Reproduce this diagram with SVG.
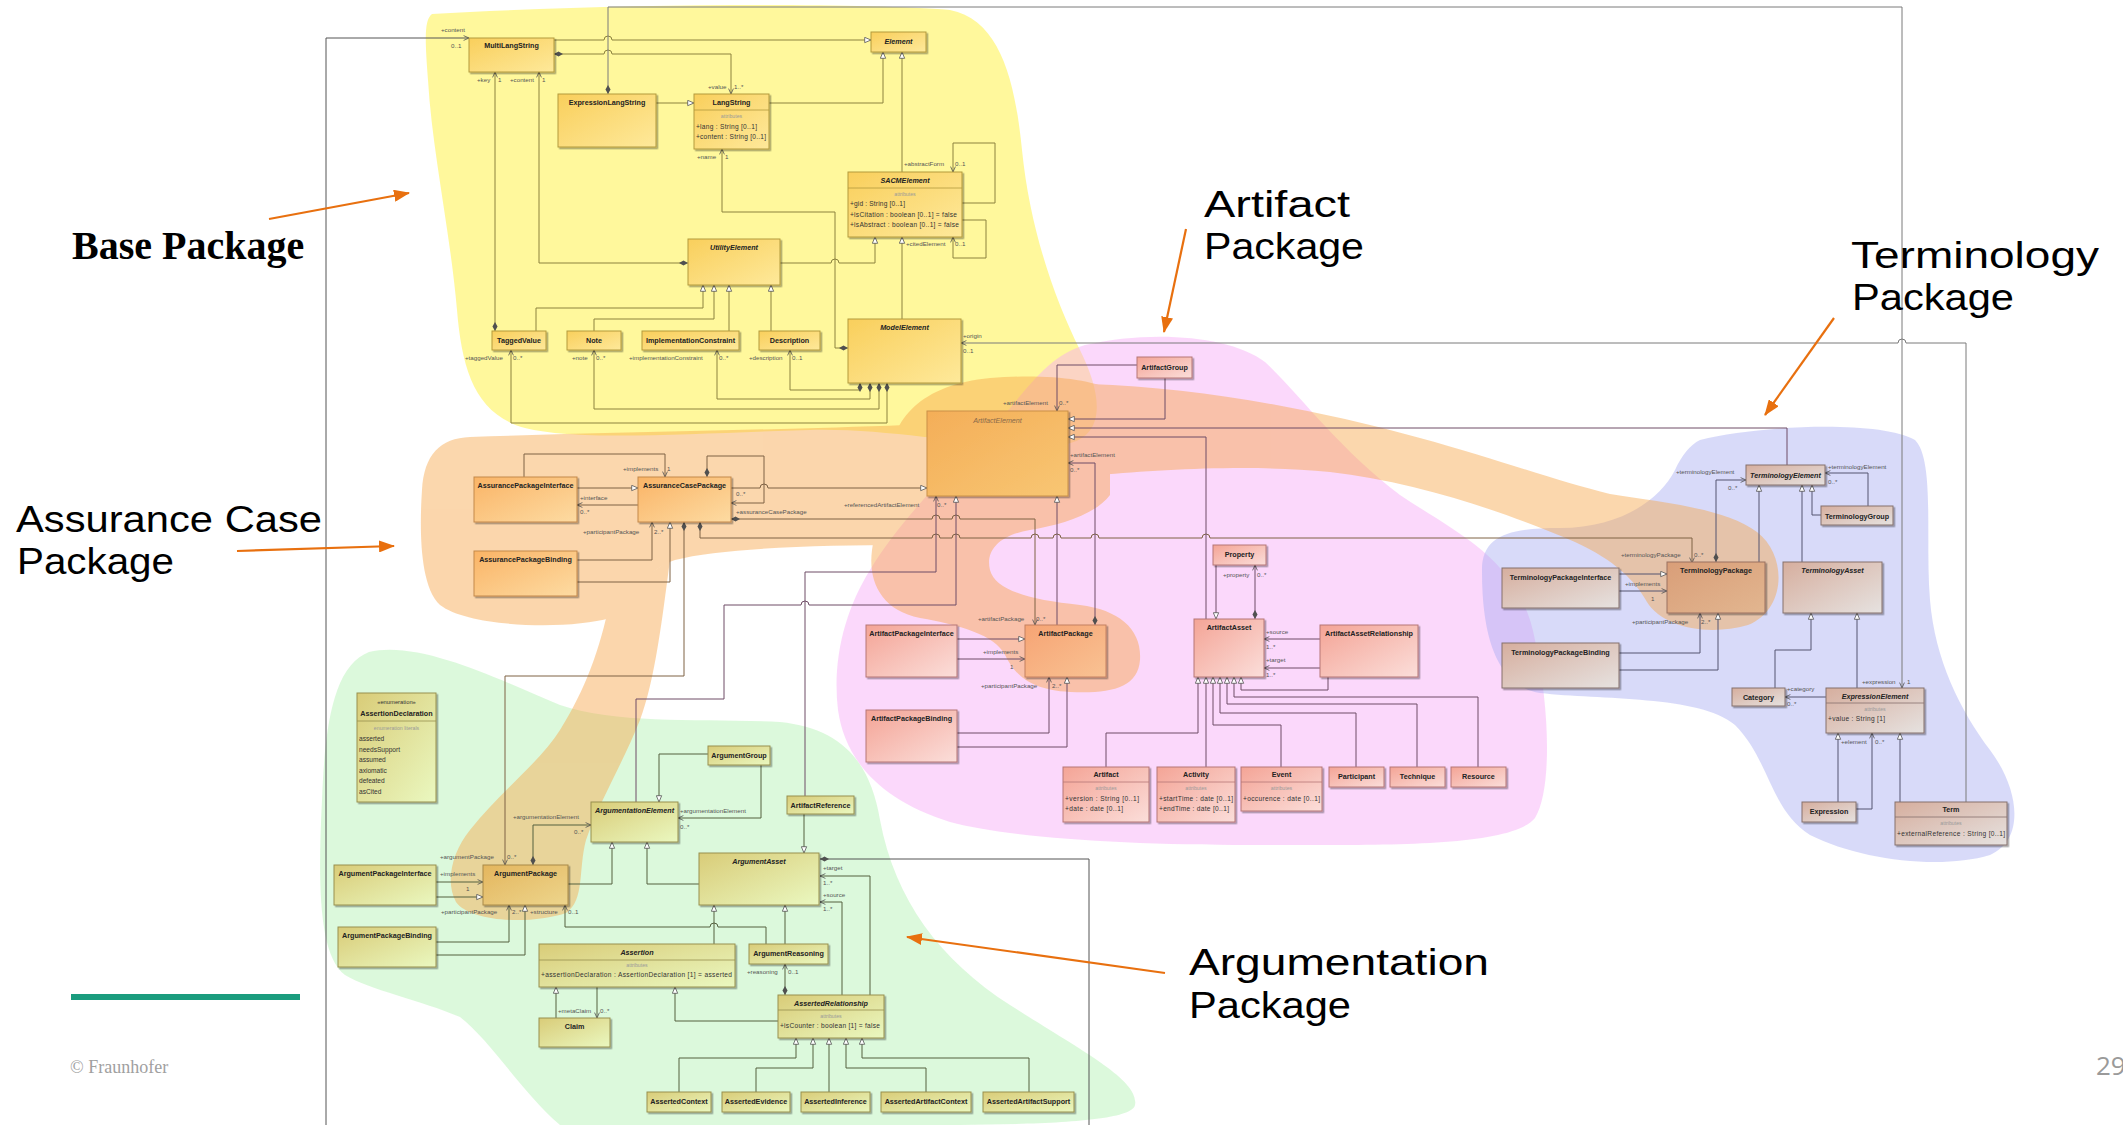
<svg xmlns="http://www.w3.org/2000/svg" width="2123" height="1125" viewBox="0 0 2123 1125">
<defs>
  <linearGradient id="gB" x1="0" y1="0" x2="1" y2="1"><stop offset="0" stop-color="#F9CF5C"/><stop offset="1" stop-color="#FEE99A"/></linearGradient>
  <linearGradient id="gO" x1="0" y1="0" x2="1" y2="1"><stop offset="0" stop-color="#FAB466"/><stop offset="1" stop-color="#FDDBA2"/></linearGradient>
  <linearGradient id="gAE" x1="0" y1="0" x2="1" y2="1"><stop offset="0" stop-color="#F4AE58"/><stop offset="1" stop-color="#F8C673"/></linearGradient>
  <linearGradient id="gP" x1="0" y1="0" x2="1" y2="1"><stop offset="0" stop-color="#F4A496"/><stop offset="1" stop-color="#FBDEDA"/></linearGradient>
  <linearGradient id="gAP" x1="0" y1="0" x2="1" y2="1"><stop offset="0" stop-color="#F6A474"/><stop offset="1" stop-color="#F9C293"/></linearGradient>
  <linearGradient id="gT" x1="0" y1="0" x2="1" y2="1"><stop offset="0" stop-color="#D6AE9E"/><stop offset="1" stop-color="#E6E2E0"/></linearGradient>
  <linearGradient id="gTP" x1="0" y1="0" x2="1" y2="1"><stop offset="0" stop-color="#D99E78"/><stop offset="1" stop-color="#E2B690"/></linearGradient>
  <linearGradient id="gG" x1="0" y1="0" x2="1" y2="1"><stop offset="0" stop-color="#D9CC78"/><stop offset="1" stop-color="#EAF8C0"/></linearGradient>
  <linearGradient id="gGP" x1="0" y1="0" x2="1" y2="1"><stop offset="0" stop-color="#E4B65E"/><stop offset="1" stop-color="#EDD58C"/></linearGradient>
  <filter id="sh" x="-10%" y="-10%" width="130%" height="140%"><feDropShadow dx="1.6" dy="1.6" stdDeviation="0.7" flood-color="#000" flood-opacity="0.35"/></filter>
  <marker id="tri" viewBox="0 0 10 10" refX="10" refY="5" markerWidth="7" markerHeight="7" orient="auto" markerUnits="userSpaceOnUse"><path d="M1,1.2 L10,5 L1,8.8 Z" fill="#fff" stroke="#505050" stroke-width="1.1"/></marker>
  <marker id="arr" viewBox="0 0 10 10" refX="10" refY="5" markerWidth="6" markerHeight="6" orient="auto" markerUnits="userSpaceOnUse"><path d="M1,1 L10,5 L1,9" fill="none" stroke="#505050" stroke-width="1.3"/></marker>
  <marker id="dia" viewBox="0 0 12 8" refX="0" refY="4" markerWidth="9" markerHeight="6" orient="auto" markerUnits="userSpaceOnUse"><path d="M0,4 L6,0.6 L12,4 L6,7.4 Z" fill="#505050"/></marker>
  <marker id="oa" viewBox="0 0 16 12" refX="15" refY="6" markerWidth="16" markerHeight="12" orient="auto" markerUnits="userSpaceOnUse"><path d="M0,0 L16,6 L0,12 Z" fill="#E8700F"/></marker>
</defs>
<style>
  text{font-family:"Liberation Sans",Arial,sans-serif}
  .box{stroke-width:1;filter:url(#sh)}
  .b{fill:url(#gB);stroke:#B39A3C}
  .o{fill:url(#gO);stroke:#C4894A}
  .ae{fill:url(#gAE);stroke:#C99048}
  .p{fill:url(#gP);stroke:#B57676}
  .ap{fill:url(#gAP);stroke:#C48060}
  .t{fill:url(#gT);stroke:#85706C}
  .tp{fill:url(#gTP);stroke:#9A7060}
  .g{fill:url(#gG);stroke:#97904E}
  .gp{fill:url(#gGP);stroke:#A88A48}
  .dv{stroke-width:0.8}
  .nm{font-size:7.2px;font-weight:bold;fill:#222;text-anchor:middle}
  .it{font-style:italic}
  .ital{font-size:7.2px;font-style:italic;fill:#8A6A4A;text-anchor:middle}
  .at{font-size:6.6px;fill:#333}
  .ah{font-size:5.2px;fill:#9A9A9A;text-anchor:middle}
  .st{font-size:5.8px;fill:#333;text-anchor:middle}
  .r{font-size:6.2px;fill:#555}
  .c{fill:none;stroke-width:1}
  .cb{stroke:#8C823E}
  .co{stroke:#7E6244}
  .cp{stroke:#6E4C66}
  .ct{stroke:#545470}
  .cg{stroke:#55603F}
  .cl{stroke:#7A7A7A}
  .tr{marker-end:url(#tri)}
  .ar{marker-end:url(#arr)}
  .ds{marker-start:url(#dia)}
  .big{font-family:"Liberation Sans",Arial,sans-serif;font-size:37px;fill:#000}
  .call{fill:none;stroke:#E8700F;stroke-width:2.2;marker-end:url(#oa)}
</style>
<rect width="2123" height="1125" fill="#fff"/>

<!-- package highlight regions -->
<g id="packages">
  <path id="pkg-base" fill="#FFF45A" opacity="0.6" d="M432,14 C600,4 850,2 950,10 C1000,20 1015,80 1022,150 C1030,230 1055,300 1080,350 C1105,400 1105,440 1060,445 C980,450 900,428 810,430 C700,433 580,442 525,428 C475,414 462,370 457,310 C450,230 432,150 428,80 C425,40 424,20 432,14 Z"/>
  <path id="pkg-artifact" fill="#F7A8F7" opacity="0.45" d="M1085,345 C1150,330 1230,335 1265,362 C1300,395 1340,450 1400,495 C1460,535 1520,560 1535,640 C1550,710 1552,790 1535,818 C1510,848 1380,845 1250,845 C1130,845 1010,838 950,822 C880,800 845,760 838,710 C832,660 845,610 870,570 C900,520 950,470 1000,420 C1030,385 1050,355 1085,345 Z"/>
  <path id="pkg-terminology" fill="#A8ACF2" opacity="0.45" d="M1700,440 C1760,425 1880,420 1915,440 C1935,460 1925,540 1930,600 C1935,660 1960,710 1990,750 C2020,790 2025,840 1990,855 C1940,870 1860,860 1810,835 C1770,810 1770,760 1735,725 C1700,695 1600,700 1540,693 C1490,685 1482,620 1482,570 C1482,535 1510,528 1560,528 C1620,528 1660,500 1675,470 C1682,455 1690,445 1700,440 Z"/>
  <path id="pkg-argumentation" fill="#A8F0A8" opacity="0.4" d="M369,652 C420,640 500,680 560,705 C620,725 700,718 780,722 C840,728 870,760 880,820 C895,900 940,960 1010,1005 C1080,1050 1140,1080 1135,1105 C1132,1125 1000,1125 900,1125 L560,1125 C520,1090 490,1040 460,1017 C420,1000 370,990 345,975 C318,955 318,880 322,800 C325,720 335,665 369,652 Z"/>
  <g id="pkg-assurance" fill="#F7A64A" opacity="0.45">
    <path d="M470,437 C620,432 780,430 905,425 L905,545 C820,545 720,548 675,560 C645,570 630,600 610,618 C570,630 470,628 440,605 C418,585 420,520 422,490 C424,455 440,438 470,437 Z"/>
    <path d="M610,600 L670,560 C662,620 655,680 640,720 C622,765 600,800 586,840 C578,870 585,900 566,913 C530,925 470,922 456,902 C445,882 452,852 470,830 C500,792 540,762 560,730 C585,690 600,650 610,600 Z"/>
    <path d="M890,470 C888,420 920,385 990,378 C1040,374 1090,378 1110,390 L1110,495 C1095,515 1060,525 1030,530 C1000,535 985,550 990,570 C995,590 1030,600 1080,605 C1120,610 1142,630 1140,660 C1138,688 1110,694 1070,692 C1030,690 1015,675 1005,655 C995,635 960,625 920,618 C880,610 868,580 872,550 C876,520 890,500 890,470 Z"/>
    <path d="M1090,384 C1200,388 1310,408 1420,438 C1500,460 1560,482 1610,494 C1660,502 1725,508 1757,532 C1788,556 1786,610 1748,625 C1705,637 1662,626 1647,602 C1636,582 1615,560 1575,542 C1515,516 1420,482 1330,472 C1250,464 1160,470 1100,475 Z"/>
  </g>
</g>

<!-- connectors -->
<g id="connectors">
  <!-- base -->
  <path class="c cb tr" d="M554,40 H604 a4,4 0 0 1 8,0 H871"/>
  <path class="c cb ds ar" d="M554,54 H604 a4,4 0 0 1 8,0 H731 V94"/>
  <path class="c cb tr" d="M769,103 H883 V52"/>
  <path class="c cb tr" d="M656,103 H694"/>
  <path class="c cb tr" d="M902,172 V52"/>
  <path class="c cb tr" d="M902,319 V237"/>
  <path class="c cb tr" d="M780,263 H831 a4,4 0 0 1 8,0 H875 V237"/>
  <path class="c cb ds ar" d="M688,263 H539 V72"/>
  <path class="c cb ds ar" d="M495,331 V72"/>
  <path class="c cb ds ar" d="M848,348 H835 V212 H722 V149"/>
  <path class="c cb ar" d="M962,203 H995 V143 H953 V172"/>
  <path class="c cb ar" d="M962,220 H986 V258 H953 V237"/>
  <path class="c cb tr" d="M536,331 V308 H703 V285"/>
  <path class="c cb tr" d="M594,331 V319 H714 V285"/>
  <path class="c cb tr" d="M729,331 V285"/>
  <path class="c cb tr" d="M771,331 V285"/>
  <path class="c cb ds ar" d="M860,383 V390 H790 V350"/>
  <path class="c cb ds ar" d="M870,383 V399 H717 V350"/>
  <path class="c cb ds ar" d="M879,383 V409 H594 V350"/>
  <path class="c cb ds ar" d="M887,383 V423 H511 V350"/>
  <!-- long cross-package lines -->
  <path class="c cl ds ar" d="M608,94 V7 H1902 V688"/>
  <path class="c cl ar" d="M1966,802 V343 H1906 a4,4 0 0 0 -8,0 H961"/>
  <path class="c cl ar" d="M326,1125 V38 H469" style="stroke:#555"/>
  <path class="c cl ds" d="M820,859 H1089 V1125" style="stroke:#555"/>
  <!-- assurance case -->
  <path class="c co tr" d="M577,488 H638"/>
  <path class="c co ar" d="M638,505 H577"/>
  <path class="c co ar" d="M524,477 V454 H665 V477"/>
  <path class="c co ar" d="M577,560 H652 V522"/>
  <path class="c co tr" d="M577,582 H670 V522"/>
  <path class="c co ds ar" d="M707,477 V456 H764 V503 H731"/>
  <path class="c co tr" d="M731,488 H760 a4,4 0 0 1 8,0 H927"/>
  <path class="c co ds ar" d="M731,519 H932 a4,4 0 0 1 8,0 H952 a4,4 0 0 1 8,0 H1035 V625"/>
  <path class="c co ds ar" d="M700,522 V538 H932 a4,4 0 0 1 8,0 H952 a4,4 0 0 1 8,0 H1031 a4,4 0 0 1 8,0 H1053 a4,4 0 0 1 8,0 H1091 a4,4 0 0 1 8,0 H1202 a4,4 0 0 1 8,0 H1692 V563"/>
  <path class="c co ds ar" d="M684,522 V676 H505 V865"/>
  <!-- artifact -->
  <path class="c cp tr" d="M1165,378 V419 H1068"/>
  <path class="c cp ar" d="M1137,365 H1057 V411"/>
  <path class="c cp tr" d="M1787,465 V428 H1068"/>
  <path class="c cp tr" d="M1206,619 V437 H1068"/>
  <path class="c cp ds ar" d="M1095,625 V463 H1068"/>
  <path class="c cp tr" d="M1057,625 V496"/>
  <path class="c cp ar" d="M805,796 V572 H936 V496"/>
  <path class="c cp tr" d="M636,802 V699 H724 V605 H801 a4,4 0 0 1 8,0 H956 V496"/>
  <path class="c cp tr" d="M957,639 H1025"/>
  <path class="c cp ar" d="M957,659 H1025"/>
  <path class="c cp ar" d="M957,733 H1049 V677"/>
  <path class="c cp tr" d="M957,747 H1067 V677"/>
  <path class="c cp tr" d="M1216,565 V619"/>
  <path class="c cp ds ar" d="M1255,619 V565"/>
  <path class="c cp ar" d="M1320,639 H1264"/>
  <path class="c cp ar" d="M1320,668 H1264"/>
  <path class="c cp tr" d="M1328,677 V690 H1241 V677"/>
  <path class="c cp tr" d="M1106,767 V733 H1198 V677"/>
  <path class="c cp tr" d="M1206,767 V677"/>
  <path class="c cp tr" d="M1281,767 V725 H1213 V677"/>
  <path class="c cp tr" d="M1356,767 V713 H1220 V677"/>
  <path class="c cp tr" d="M1417,767 V704 H1227 V677"/>
  <path class="c cp tr" d="M1478,767 V697 H1234 V677"/>
  <!-- terminology -->
  <path class="c ct ds ar" d="M1716,562 V480 H1746"/>
  <path class="c ct tr" d="M1759,562 V485"/>
  <path class="c ct tr" d="M1802,562 V485"/>
  <path class="c ct tr" d="M1821,515 H1812 V485"/>
  <path class="c ct ar" d="M1868,506 V473 H1825"/>
  <path class="c ct tr" d="M1619,574 H1667"/>
  <path class="c ct ar" d="M1619,591 H1667"/>
  <path class="c ct ar" d="M1619,653 H1700 V613"/>
  <path class="c ct tr" d="M1619,670 H1718 V613"/>
  <path class="c ct tr" d="M1775,688 V650 H1811 V613"/>
  <path class="c ct tr" d="M1857,688 V613"/>
  <path class="c ct ar" d="M1826,697 H1785"/>
  <path class="c ct tr" d="M1838,802 V733"/>
  <path class="c ct ar" d="M1856,809 H1872 V733"/>
  <path class="c ct tr" d="M1900,802 V733"/>
  <!-- argumentation -->
  <path class="c cg tr" d="M708,754 H659 V802"/>
  <path class="c cg ar" d="M761,765 V818 H678"/>
  <path class="c cg tr" d="M568,884 H612 V842"/>
  <path class="c cg tr" d="M699,884 H647 V842"/>
  <path class="c cg ds ar" d="M533,865 V825 H591"/>
  <path class="c cg ar" d="M436,882 H483"/>
  <path class="c cg tr" d="M436,897 H483"/>
  <path class="c cg ar" d="M436,942 H509 V905"/>
  <path class="c cg tr" d="M436,955 H525 V905"/>
  <path class="c cg ar" d="M766,944 V927 H718 a4,4 0 0 0 -8,0 H565 V905"/>
  <path class="c cg tr" d="M714,944 V905"/>
  <path class="c cg tr" d="M785,944 V905"/>
  <path class="c cg tr" d="M804,814 V853"/>
  <path class="c cg ar" d="M870,995 V876 H820"/>
  <path class="c cg ar" d="M842,995 V902 H820"/>
  <path class="c cg ds ar" d="M785,995 V964"/>
  <path class="c cg tr" d="M778,1021 H675 V987"/>
  <path class="c cg tr" d="M556,1018 V987"/>
  <path class="c cg ar" d="M597,987 V1018"/>
  <path class="c cg tr" d="M679,1092 V1058 H796 V1038"/>
  <path class="c cg tr" d="M756,1092 V1068 H813 V1038"/>
  <path class="c cg tr" d="M829,1092 V1038"/>
  <path class="c cg tr" d="M926,1092 V1068 H846 V1038"/>
  <path class="c cg tr" d="M1029,1092 V1058 H862 V1038"/>
</g>

<!-- classes -->
<g id="nodes">
  <!-- base package -->
  <g id="multilangstring"><rect class="box b" x="469" y="38" width="85" height="34"/><text class="nm" x="511.5" y="48">MultiLangString</text></g>
  <g id="element"><rect class="box b" x="871" y="32" width="55" height="20"/><text class="nm it" x="898.5" y="44">Element</text></g>
  <g id="expressionlangstring"><rect class="box b" x="558" y="94" width="98" height="53"/><text class="nm" x="607" y="105">ExpressionLangString</text></g>
  <g id="langstring"><rect class="box b" x="694" y="94" width="75" height="55"/><text class="nm" x="731.5" y="105">LangString</text><line class="dv" stroke="#B39A3C" x1="694" y1="110" x2="769" y2="110"/><text class="ah" x="731.5" y="118">attributes</text><text class="at" x="696" y="129" textLength="61">+lang : String [0..1]</text><text class="at" x="696" y="139" textLength="70">+content : String [0..1]</text></g>
  <g id="sacmelement"><rect class="box b" x="848" y="172" width="114" height="65"/><text class="nm it" x="905" y="183">SACMElement</text><line class="dv" stroke="#B39A3C" x1="848" y1="188" x2="962" y2="188"/><text class="ah" x="905" y="196">attributes</text><text class="at" x="850" y="206" textLength="55">+gid : String [0..1]</text><text class="at" x="850" y="216.5" textLength="107">+isCitation : boolean [0..1] = false</text><text class="at" x="850" y="227" textLength="109">+isAbstract : boolean [0..1] = false</text></g>
  <g id="utilityelement"><rect class="box b" x="688" y="239" width="92" height="46"/><text class="nm it" x="734" y="250">UtilityElement</text></g>
  <g id="taggedvalue"><rect class="box b" x="492" y="331" width="54" height="19"/><text class="nm" x="519" y="343">TaggedValue</text></g>
  <g id="note"><rect class="box b" x="567" y="331" width="54" height="19"/><text class="nm" x="594" y="343">Note</text></g>
  <g id="implementationconstraint"><rect class="box b" x="642" y="331" width="97" height="19"/><text class="nm" x="690.5" y="343">ImplementationConstraint</text></g>
  <g id="description"><rect class="box b" x="759" y="331" width="61" height="19"/><text class="nm" x="789.5" y="343">Description</text></g>
  <g id="modelelement"><rect class="box b" x="848" y="319" width="113" height="64"/><text class="nm it" x="904.5" y="330">ModelElement</text></g>

  <!-- assurance case package -->
  <g id="assurancepackageinterface"><rect class="box o" x="474" y="477" width="103" height="45"/><text class="nm" x="525.5" y="488">AssurancePackageInterface</text></g>
  <g id="assurancecasepackage"><rect class="box o" x="638" y="477" width="93" height="45"/><text class="nm" x="684.5" y="488">AssuranceCasePackage</text></g>
  <g id="assurancepackagebinding"><rect class="box o" x="474" y="551" width="103" height="45"/><text class="nm" x="525.5" y="562">AssurancePackageBinding</text></g>

  <!-- artifact package -->
  <g id="artifactelement"><rect class="box ae" x="927" y="411" width="141" height="85"/><text class="ital" x="997.5" y="423">ArtifactElement</text></g>
  <g id="artifactgroup"><rect class="box p" x="1137" y="357" width="55" height="21"/><text class="nm" x="1164.5" y="370">ArtifactGroup</text></g>
  <g id="property"><rect class="box p" x="1213" y="545" width="53" height="20"/><text class="nm" x="1239.5" y="557">Property</text></g>
  <g id="artifactasset"><rect class="box p" x="1194" y="619" width="70" height="58"/><text class="nm" x="1229" y="630">ArtifactAsset</text></g>
  <g id="artifactassetrelationship"><rect class="box p" x="1320" y="625" width="98" height="52"/><text class="nm" x="1369" y="636">ArtifactAssetRelationship</text></g>
  <g id="artifactpackage"><rect class="box ap" x="1025" y="625" width="81" height="52"/><text class="nm" x="1065.5" y="636">ArtifactPackage</text></g>
  <g id="artifactpackageinterface"><rect class="box p" x="866" y="625" width="91" height="52"/><text class="nm" x="911.5" y="636">ArtifactPackageInterface</text></g>
  <g id="artifactpackagebinding"><rect class="box p" x="866" y="710" width="91" height="52"/><text class="nm" x="911.5" y="721">ArtifactPackageBinding</text></g>
  <g id="artifact"><rect class="box p" x="1063" y="767" width="86" height="55"/><text class="nm" x="1106" y="777">Artifact</text><line class="dv" stroke="#B57676" x1="1063" y1="782" x2="1149" y2="782"/><text class="ah" x="1106" y="790">attributes</text><text class="at" x="1065" y="801" textLength="74">+version : String [0..1]</text><text class="at" x="1065" y="811" textLength="58">+date : date [0..1]</text></g>
  <g id="activity"><rect class="box p" x="1157" y="767" width="78" height="55"/><text class="nm" x="1196" y="777">Activity</text><line class="dv" stroke="#B57676" x1="1157" y1="782" x2="1235" y2="782"/><text class="ah" x="1196" y="790">attributes</text><text class="at" x="1159" y="801" textLength="74">+startTime : date [0..1]</text><text class="at" x="1159" y="811" textLength="70">+endTime : date [0..1]</text></g>
  <g id="event"><rect class="box p" x="1241" y="767" width="81" height="44"/><text class="nm" x="1281.5" y="777">Event</text><line class="dv" stroke="#B57676" x1="1241" y1="782" x2="1322" y2="782"/><text class="ah" x="1281.5" y="790">attributes</text><text class="at" x="1243" y="801" textLength="77">+occurence : date [0..1]</text></g>
  <g id="participant"><rect class="box p" x="1329" y="767" width="55" height="20"/><text class="nm" x="1356.5" y="779">Participant</text></g>
  <g id="technique"><rect class="box p" x="1390" y="767" width="55" height="20"/><text class="nm" x="1417.5" y="779">Technique</text></g>
  <g id="resource"><rect class="box p" x="1451" y="767" width="55" height="20"/><text class="nm" x="1478.5" y="779">Resource</text></g>

  <!-- terminology package -->
  <g id="terminologyelement"><rect class="box t" x="1746" y="465" width="79" height="20"/><text class="nm it" x="1785.5" y="477.5">TerminologyElement</text></g>
  <g id="terminologygroup"><rect class="box t" x="1821" y="506" width="72" height="19"/><text class="nm" x="1857" y="518.5">TerminologyGroup</text></g>
  <g id="terminologypackage"><rect class="box tp" x="1667" y="562" width="98" height="51"/><text class="nm" x="1716" y="573">TerminologyPackage</text></g>
  <g id="terminologyasset"><rect class="box t" x="1783" y="562" width="99" height="51"/><text class="nm it" x="1832.5" y="573">TerminologyAsset</text></g>
  <g id="terminologypackageinterface"><rect class="box t" x="1502" y="568" width="117" height="40"/><text class="nm" x="1560.5" y="580">TerminologyPackageInterface</text></g>
  <g id="terminologypackagebinding"><rect class="box t" x="1502" y="643" width="117" height="45"/><text class="nm" x="1560.5" y="655">TerminologyPackageBinding</text></g>
  <g id="category"><rect class="box t" x="1732" y="688" width="53" height="18"/><text class="nm" x="1758.5" y="699.5">Category</text></g>
  <g id="expressionelement"><rect class="box t" x="1826" y="688" width="98" height="45"/><text class="nm it" x="1875" y="698.5">ExpressionElement</text><line class="dv" stroke="#85706C" x1="1826" y1="703" x2="1924" y2="703"/><text class="ah" x="1875" y="711">attributes</text><text class="at" x="1828" y="721" textLength="57">+value : String [1]</text></g>
  <g id="expression"><rect class="box t" x="1802" y="802" width="54" height="20"/><text class="nm" x="1829" y="814">Expression</text></g>
  <g id="term"><rect class="box t" x="1895" y="802" width="112" height="43"/><text class="nm" x="1951" y="812">Term</text><line class="dv" stroke="#85706C" x1="1895" y1="817" x2="2007" y2="817"/><text class="ah" x="1951" y="825">attributes</text><text class="at" x="1897" y="836" textLength="108">+externalReference : String [0..1]</text></g>

  <!-- argumentation package -->
  <g id="assertiondeclaration"><rect class="box g" x="357" y="693" width="79" height="109"/><text class="st" x="396.5" y="704">«enumeration»</text><text class="nm" x="396.5" y="716">AssertionDeclaration</text><line class="dv" stroke="#97904E" x1="357" y1="721" x2="436" y2="721"/><text class="ah" x="396.5" y="730">enumeration literals</text><text class="at" x="359" y="741">asserted</text><text class="at" x="359" y="751.5">needsSupport</text><text class="at" x="359" y="762">assumed</text><text class="at" x="359" y="772.5">axiomatic</text><text class="at" x="359" y="783">defeated</text><text class="at" x="359" y="793.5">asCited</text></g>
  <g id="argumentgroup"><rect class="box g" x="708" y="746" width="62" height="19"/><text class="nm" x="739" y="758">ArgumentGroup</text></g>
  <g id="argumentationelement"><rect class="box g" x="591" y="802" width="87" height="40"/><text class="nm it" x="634.5" y="813">ArgumentationElement</text></g>
  <g id="artifactreference"><rect class="box g" x="787" y="796" width="67" height="18"/><text class="nm" x="820.5" y="808">ArtifactReference</text></g>
  <g id="argumentasset"><rect class="box g" x="699" y="853" width="120" height="52"/><text class="nm it" x="759" y="864">ArgumentAsset</text></g>
  <g id="argumentpackage"><rect class="box gp" x="483" y="865" width="85" height="40"/><text class="nm" x="525.5" y="876">ArgumentPackage</text></g>
  <g id="argumentpackageinterface"><rect class="box g" x="334" y="865" width="102" height="40"/><text class="nm" x="385" y="876">ArgumentPackageInterface</text></g>
  <g id="argumentpackagebinding"><rect class="box g" x="338" y="927" width="98" height="40"/><text class="nm" x="387" y="938">ArgumentPackageBinding</text></g>
  <g id="assertion"><rect class="box g" x="539" y="944" width="196" height="43"/><text class="nm it" x="637" y="955">Assertion</text><line class="dv" stroke="#97904E" x1="539" y1="960" x2="735" y2="960"/><text class="ah" x="637" y="967">attributes</text><text class="at" x="541" y="977" textLength="191">+assertionDeclaration : AssertionDeclaration [1] = asserted</text></g>
  <g id="argumentreasoning"><rect class="box g" x="749" y="944" width="79" height="20"/><text class="nm" x="788.5" y="956">ArgumentReasoning</text></g>
  <g id="claim"><rect class="box g" x="539" y="1018" width="71" height="29"/><text class="nm" x="574.5" y="1029">Claim</text></g>
  <g id="assertedrelationship"><rect class="box g" x="778" y="995" width="106" height="43"/><text class="nm it" x="831" y="1006">AssertedRelationship</text><line class="dv" stroke="#97904E" x1="778" y1="1010" x2="884" y2="1010"/><text class="ah" x="831" y="1018">attributes</text><text class="at" x="780" y="1028" textLength="100">+isCounter : boolean [1] = false</text></g>
  <g id="assertedcontext"><rect class="box g" x="647" y="1092" width="64" height="20"/><text class="nm" x="679" y="1104">AssertedContext</text></g>
  <g id="assertedevidence"><rect class="box g" x="722" y="1092" width="68" height="20"/><text class="nm" x="756" y="1104">AssertedEvidence</text></g>
  <g id="assertedinference"><rect class="box g" x="801" y="1092" width="69" height="20"/><text class="nm" x="835.5" y="1104">AssertedInference</text></g>
  <g id="assertedartifactcontext"><rect class="box g" x="881" y="1092" width="90" height="20"/><text class="nm" x="926" y="1104">AssertedArtifactContext</text></g>
  <g id="assertedartifactsupport"><rect class="box g" x="983" y="1092" width="91" height="20"/><text class="nm" x="1028.5" y="1104">AssertedArtifactSupport</text></g>
</g>

<!-- association end labels -->
<g id="roles" class="r">
  <text class="r" x="441" y="32">+content</text><text class="r" x="451" y="48">0..1</text>
  <text class="r" x="477" y="82">+key</text><text class="r" x="498" y="82">1</text>
  <text class="r" x="510" y="82">+content</text><text class="r" x="542" y="82">1</text>
  <text class="r" x="708" y="89">+value</text><text class="r" x="734" y="89">1..*</text>
  <text class="r" x="697" y="159">+name</text><text class="r" x="725" y="159">1</text>
  <text class="r" x="904" y="166">+abstractForm</text><text class="r" x="955" y="166">0..1</text>
  <text class="r" x="906" y="246">+citedElement</text><text class="r" x="955" y="246">0..1</text>
  <text class="r" x="465" y="360">+taggedValue</text><text class="r" x="513" y="360">0..*</text>
  <text class="r" x="572" y="360">+note</text><text class="r" x="596" y="360">0..*</text>
  <text class="r" x="629" y="360">+implementationConstraint</text><text class="r" x="719" y="360">0..*</text>
  <text class="r" x="749" y="360">+description</text><text class="r" x="792" y="360">0..1</text>
  <text class="r" x="963" y="338">+origin</text><text class="r" x="963" y="353">0..1</text>

  <text class="r" x="623" y="471">+implements</text><text class="r" x="667" y="471">1</text>
  <text class="r" x="580" y="500">+interface</text><text class="r" x="580" y="514">0..*</text>
  <text class="r" x="583" y="534">+participantPackage</text><text class="r" x="654" y="534">2..*</text>
  <text class="r" x="736" y="496">0..*</text>
  <text class="r" x="736" y="514">+assuranceCasePackage</text>
  <text class="r" x="844" y="507">+referencedArtifactElement</text><text class="r" x="937" y="507">0..*</text>

  <text class="r" x="1003" y="405">+artifactElement</text><text class="r" x="1059" y="405">0..*</text>
  <text class="r" x="1070" y="457">+artifactElement</text><text class="r" x="1070" y="472">0..*</text>
  <text class="r" x="978" y="621">+artifactPackage</text><text class="r" x="1036" y="621">0..*</text>
  <text class="r" x="983" y="654">+implements</text><text class="r" x="1010" y="669">1</text>
  <text class="r" x="981" y="688">+participantPackage</text><text class="r" x="1052" y="688">2..*</text>
  <text class="r" x="1223" y="577">+property</text><text class="r" x="1257" y="577">0..*</text>
  <text class="r" x="1266" y="634">+source</text><text class="r" x="1266" y="649">1..*</text>
  <text class="r" x="1266" y="662">+target</text><text class="r" x="1266" y="677">1..*</text>

  <text class="r" x="1676" y="474">+terminologyElement</text><text class="r" x="1728" y="490">0..*</text>
  <text class="r" x="1828" y="469">+terminologyElement</text><text class="r" x="1828" y="484">0..*</text>
  <text class="r" x="1621" y="557">+terminologyPackage</text><text class="r" x="1694" y="557">0..*</text>
  <text class="r" x="1625" y="586">+implements</text><text class="r" x="1651" y="601">1</text>
  <text class="r" x="1632" y="624">+participantPackage</text><text class="r" x="1701" y="624">2..*</text>
  <text class="r" x="1787" y="691">+category</text><text class="r" x="1787" y="706">0..*</text>
  <text class="r" x="1862" y="684">+expression</text><text class="r" x="1907" y="684">1</text>
  <text class="r" x="1841" y="744">+element</text><text class="r" x="1875" y="744">0..*</text>

  <text class="r" x="440" y="859">+argumentPackage</text><text class="r" x="507" y="859">0..*</text>
  <text class="r" x="513" y="819">+argumentationElement</text><text class="r" x="574" y="834">0..*</text>
  <text class="r" x="680" y="813">+argumentationElement</text><text class="r" x="680" y="829">0..*</text>
  <text class="r" x="440" y="876">+implements</text><text class="r" x="466" y="891">1</text>
  <text class="r" x="441" y="914">+participantPackage</text><text class="r" x="512" y="914">2..*</text>
  <text class="r" x="530" y="914">+structure</text><text class="r" x="568" y="914">0..1</text>
  <text class="r" x="823" y="870">+target</text><text class="r" x="823" y="885">1..*</text>
  <text class="r" x="823" y="897">+source</text><text class="r" x="823" y="911">1..*</text>
  <text class="r" x="747" y="974">+reasoning</text><text class="r" x="788" y="974">0..1</text>
  <text class="r" x="558" y="1013">+metaClaim</text><text class="r" x="600" y="1013">0..*</text>
</g>

<!-- package call-outs -->
<g id="callouts">
  <text x="72" y="259" style="font-family:'Liberation Serif','Times New Roman',serif;font-weight:bold;font-size:40px;fill:#000">Base Package</text>
  <path class="call" d="M269,219 L409,193"/>
  <text class="big" x="16" y="532" textLength="306" lengthAdjust="spacingAndGlyphs">Assurance Case</text>
  <text class="big" x="17" y="574" textLength="157" lengthAdjust="spacingAndGlyphs">Package</text>
  <path class="call" d="M237,551 L394,546"/>
  <text class="big" x="1204" y="217" textLength="146" lengthAdjust="spacingAndGlyphs">Artifact</text>
  <text class="big" x="1204" y="259" textLength="160" lengthAdjust="spacingAndGlyphs">Package</text>
  <path class="call" d="M1186,229 L1164,332"/>
  <text class="big" x="1851" y="268" textLength="248" lengthAdjust="spacingAndGlyphs">Terminology</text>
  <text class="big" x="1852" y="310" textLength="162" lengthAdjust="spacingAndGlyphs">Package</text>
  <path class="call" d="M1834,318 L1765,415"/>
  <text class="big" x="1189" y="975" textLength="300" lengthAdjust="spacingAndGlyphs">Argumentation</text>
  <text class="big" x="1189" y="1018" textLength="162" lengthAdjust="spacingAndGlyphs">Package</text>
  <path class="call" d="M1165,973 L907,937"/>
</g>

<!-- slide footer -->
<g id="footer">
  <rect x="71" y="994" width="229" height="6" fill="#1A9C7E"/>
  <text x="70" y="1073" style="font-family:'Liberation Serif','Times New Roman',serif;font-size:18px;fill:#A0A0A0">© Fraunhofer</text>
  <text x="2096" y="1075" style="font-family:'Open Sans','Noto Sans',sans-serif;font-size:26px;fill:#9A9A9A">29</text>
</g>
</svg>
